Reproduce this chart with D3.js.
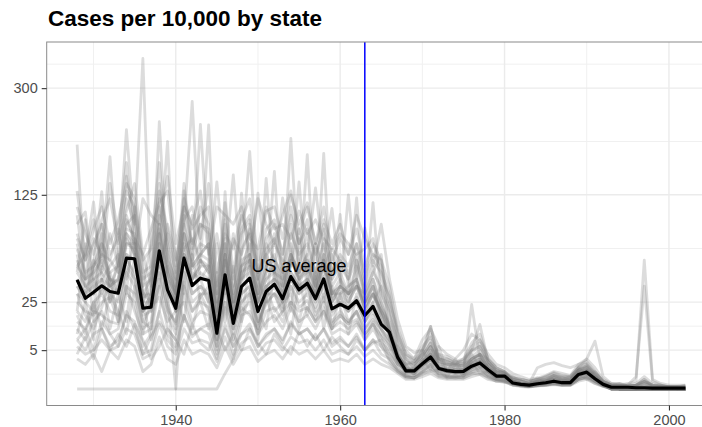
<!DOCTYPE html>
<html>
<head>
<meta charset="utf-8">
<script src="https://cdn.jsdelivr.net/npm/d3@7"></script>
<style>
  body { margin: 0; background: #fff; }
  text { font-family: "Liberation Sans", Arial, sans-serif; }
</style>
</head>
<body>
<div id="chart"></div>
<script>
// years 1928..2002
var years = d3.range(1928, 2003)

// US average, cases per 10,000
var usRate = [
  39.5, 27.3, 31.0, 35.3, 31.5, 30.4, 56.7, 56.2, 21.6, 22.2,
  63.3, 32.6, 21.6, 56.7, 35.5, 40.7, 39.0, 10.3, 43.2, 14.3,
  34.8, 40.7, 19.9, 31.5, 36.4, 27.0, 41.9, 32.6, 37.1, 27.0,
  40.2, 21.3, 23.8, 21.6, 25.8, 17.9, 22.6, 13.8, 10.7, 3.3,
  1.08, 1.08, 2.1, 3.4, 1.4, 1.12, 1.0, 1.02, 1.72, 2.24,
  1.22, 0.55, 0.55, 0.12, 0.07, 0.05, 0.09, 0.13, 0.2, 0.13,
  0.13, 0.7, 0.94, 0.35, 0.07, 0.01, 0.01, 0.01, 0.005, 0.005,
  0.003, 0.003, 0.003, 0.003, 0.003]

// individual states (estimated)
var st01 = [70,40,55,45,80,50,120,90,362,35, 110,70,25,130,60,90,80,25,70,30, 60,187,40,70,55,45,90,50,80,40, 75,35,45,30,50,28,40,25,12,4, 1.2,0.8,2.5,4,1.5,1.2,0.8,1,2.5,3, 1.5,0.6,0.4,0.1,0.05,0.02,0.1,0.2,0.3,0.1, 0.1,0.9,1.2,0.3,0.05,0,0,0,0,0, 0,0,0,0,0]
var st02 = [198,35,50,70,40,30,75,60,20,30, 80,45,20,60,40,55,45,12,129,18, 45,50,25,40,50,30,55,40,45,30, 184,25,35,30,40,20,30,18,9,3, 1,1.5,2,4,1,1,1.2,0.8,1.5,2.5, 1,0.5,0.7,0.2,0.1,0.05,0.1,0.1,0.2,0.2, 0.2,1,0.8,0.4,0.1,0.02,0,0,0,0, 0,0,0,0,0]
var st03 = [90,104,40,60,179,45,100,70,30,40, 120,50,30,90,274,60,70,20,50,25, 50,70,30,60,45,40,208,45,60,35, 60,30,40,25,35,22,35,15,10,3, 0.8,1,1.5,3,1.2,1,0.8,1,1.5,2, 1,0.4,0.5,0.1,0.05,0.05,0.05,0.1,0.2,0.1, 0.1,0.5,1,0.3,0.05,0,0,0,0,0, 0,0,0,0,0]
var st04 = [50,60,116,40,50,60,223,80,25,35, 90,40,25,100,50,232,60,15,70,20, 55,60,25,50,60,35,60,40,182,30, 55,30,30,35,40,20,30,20,12,4, 1.2,1.2,2,5,1.5,1.3,1,1.2,2,3, 1.2,0.6,0.5,0.15,0.08,0.05,0.1,0.15,0.25,0.15, 0.15,0.8,1.1,0.5,0.1,0.02,0,0,0,0, 0,0,0,0,0]
var st05 = [40,30,50,129,35,40,90,100,30,25, 237,45,30,80,50,60,70,15,60,25, 40,60,30,45,157,30,60,40,50,35, 60,30,35,125,40,25,35,18,11,3.5, 1,1,2,3,1.3,1.2,1,1.1,1.8,2.5, 1.2,0.5,0.6,0.1,0.1,0.05,0.1,0.1,0.2,0.1, 0.1,0.7,0.9,0.3,0.1,0.01,0,0,0,0, 0,0,0,0,0]
var st06 = [45,35,30,50,40,35,80,60,25,45, 60,203,20,70,40,50,231,18,55,20, 50,55,30,147,40,35,70,35,55,30, 55,25,35,30,121,25,40,20,10,3, 1,1.2,2.2,4,1.5,1,1,1,2,2.5, 1.3,0.6,0.5,0.15,0.1,0.05,0.1,0.15,0.2,0.1, 0.1,0.8,1,0.4,0.1,0.01,0,0,0,0, 0,0,0,0,0]
var st07 = [35,25,40,30,45,30,70,65,20,30, 70,35,25,60,45,40,50,142,50,152, 40,50,25,40,45,30,50,142,40,30, 50,25,30,25,35,30,115,25,12,4, 1.5,1.2,2.5,5,2,1.5,1.2,1,2.5,4, 1.5,0.7,0.6,0.2,0.1,0.08,0.15,0.2,0.3,0.2, 0.2,1.2,1.5,0.5,0.1,0.02,0,0,0,0, 0,0,0,0,0]
var st08 = [55,35,40,45,35,40,70,70,30,30, 80,40,30,70,40,50,50,20,60,25, 127,50,127,50,45,121,60,45,60,134, 55,108,40,30,35,25,30,20,10,3, 1,1,2,3.5,1.5,1,1,1,1.5,2.5, 1,0.5,0.5,0.1,0.05,0.05,0.1,0.1,0.2,0.1, 0.1,0.6,0.9,0.3,0.05,0.01,0,0,0,0, 0,0,0,0,0]
var st09 = [40,30,35,40,35,30,60,55,25,25, 60,35,25,55,40,45,40,15,45,20, 40,45,25,35,40,30,45,35,40,30, 45,40,101,35,40,86,50,90,40,16, 6,4.4,5,13,3,2.5,2,2,3,4, 3,1.5,1,0.3,0.2,0.1,1.5,2,2.3,1.8, 1.5,2,2.5,1,0.2,0.05,0.02,0.02,0.01,0.01, 0.01,0,0,0,0]
var st10 = [20,15,25,30,20,18,45,35,12,15, 50,20,15,45,25,30,30,8,35,10, 25,30,15,25,30,20,35,25,30,20, 30,15,20,15,20,12,18,10,7,2.5, 0.8,0.8,1.5,2.5,1.2,1,0.8,1,23.7,3, 1,0.4,0.4,0.1,0.05,0.03,0.05,0.1,0.15,0.1, 0.1,0.5,0.8,0.3,0.05,0,0,0,0,0, 0,0,0,0,0]
var st11 = [12,8,15,20,10,12,30,25,6,10, 35,12,8,30,15,20,18,5,22,6, 18,20,10,15,18,12,22,15,18,12, 20,10,12,10,14,8,12,7,5,2, 0.6,0.6,1.2,2,0.8,0.7,0.6,0.7,1.2,1.8, 0.8,0.3,0.3,0.08,0.04,0.02,0.05,0.08,0.12,0.08, 0.08,0.4,0.6,0.2,0.04,0,0,0,0,0, 0,0,0,0,0]
var st12 = [25,20,18,25,28,15,60,40,15,12, 70,25,12,60,30,35,25,6,40,12, 30,35,12,28,35,22,40,30,35,22, 38,18,25,20,25,15,22,12,8,2.8, 0.9,1,1.8,3,1.3,1,0.9,0.8,1.5,2, 1,0.5,0.5,0.12,0.06,0.04,0.08,0.1,0.2,0.1, 0.1,0.6,0.8,0.3,0.05,0,0,0,0,0, 0,0,0,0,0]
var st13 = [3,2,4,1,5,3,8,6,1,2, 9,3,2,8,4,5,4,1.5,6,2, 5,6,2.5,4,5,3,6,4,5,3, 5,2.5,3,2.5,4,2,3,2,1.5,0.8, 0.3,0.3,0.5,0.8,0.4,0.3,0.3,0.3,0.5,0.7, 0.3,0.2,0.15,0.05,0.02,0.01,0.03,0.05,0.08,0.05, 0.05,0.3,0.4,0.1,0.02,0,0,0,0,0, 0,0,0,0,0]
var st14 = [0,0,0,0,0,0,0,0,0,0, 0,0,0,0,0,0,0,0,0.8,2.9, 15,30,8,35,20,25,30,15,35,18, 25,12,30,15,20,8,15,6,4,1.5, 0.5,0.6,1,1.8,0.8,0.6,0.5,0.6,1,1.4, 0.6,0.3,0.3,0.08,0.04,0.02,0.04,0.06,0.1,0.06, 0.06,0.3,0.5,0.2,0.03,0,0,0,0,0, 0,0,0,0,0]
var st15 = [30,25,20,35,30,25,50,40,18,20, 55,30,0,50,30,35,30,10,40,12, 30,35,15,30,30,25,40,30,35,25, 35,20,25,20,25,15,20,12,8,2.5, 1,1,1.8,3,1.3,1,1,0.9,1.7,2.2, 1.1,0.5,0.5,0.12,0.07,0.05,0.08,0.12,0.2,0.12, 0.12,0.6,0.9,0.35,0.06,0.01,0,0,0,0, 0,0,0,0,0]
var st16 = [65,45,50,60,45,50,85,80,35,40, 90,50,35,80,50,60,55,20,60,25, 50,60,30,50,55,40,60,45,55,40, 55,30,35,30,38,25,35,22,15,5, 2,1.5,3,6,2.5,2,1.5,1.5,3,4, 2,1,0.8,0.2,0.1,0.1,0.15,0.2,0.4,0.3, 0.3,1,1.2,0.5,0.1,0.05,0.05,0.1,0.2,55, 0.3,0.1,0.05,0.05,0.05]
var st17 = [8,5,10,12,6,8,18,15,4,5, 20,8,5,18,10,12,10,3,14,4, 10,12,6,10,12,8,14,10,12,8, 12,6,8,6,9,5,8,4,3,1.2, 0.5,0.4,0.9,1.5,0.6,0.5,0.4,0.5,0.9,1.2, 0.5,0.2,0.2,0.05,0.03,0.02,0.03,0.05,0.08,0.05, 0.06,0.3,0.5,0.2,0.03,0.01,0.02,0.05,0.5,35, 0.2,0.05,0.02,0.02,0.03]
var st18 = [35,28,30,40,25,35,55,45,20,25, 60,30,20,55,35,40,40,12,40,15, 35,40,20,35,40,25,45,35,40,28, 42,22,28,22,28,18,25,15,10,4, 1.5,1.5,3,6,2,2,1.5,2,5,13.8, 2.5,1,1,0.2,0.1,0.1,0.2,0.3,0.5,0.3, 0.3,1.5,3,7.6,0.5,0.1,0.05,0.05,0.03,0.02, 0.01,0.01,0.01,0.01,0.05]
var st19 = [15,12,20,18,15,14,35,30,10,12, 40,18,10,35,20,25,22,6,25,8, 20,25,10,20,22,15,25,20,22,15, 22,12,15,12,15,10,14,9,6,3.5, 2,2.5,4,13,2.5,2,2,1.8,3,4, 1.5,0.8,0.6,0.2,0.1,0.05,0.1,0.15,0.2,0.15, 0.15,0.8,1.2,0.4,0.08,0.02,0,0,0,0, 0,0,0,0,0]
var st20 = [50,40,45,55,40,38,80,70,28,30, 85,45,28,80,48,55,50,14,55,18, 45,55,25,45,50,35,55,42,50,35, 50,28,32,28,35,22,30,20,14,4.5, 1.3,1.2,2.4,4.5,1.8,1.5,1.2,1.3,2.2,3, 1.3,0.7,0.7,0.15,0.08,0.06,0.12,0.18,0.3,0.2, 0.2,1,1.3,0.5,0.1,0.02,0,0,0,0, 0,0,0,0,0]
var st21 = [6,4,5,8,5,6,12,10,3,4, 14,6,4,12,7,8,7,2.5,9,3, 7,9,4,7,8,5,9,7,8,5, 8,4,5,4,6,3.5,5,3,2,1, 0.4,0.4,0.7,1.2,0.5,0.4,0.4,0.4,0.7,1, 0.4,0.2,0.2,0.05,0.03,0.02,0.03,0.04,0.06,0.04, 0.04,0.2,0.3,0.1,0.02,0,0,0,0,0, 0,0,0,0,0]
var st22 = [80,55,70,90,60,75,130,110,45,50, 140,70,40,110,70,90,85,30,90,35, 80,95,40,75,90,60,100,70,85,60, 85,45,55,45,60,35,50,30,20,6, 2,2,3.5,7,2.5,2,1.8,1.8,3.5,5, 2,1,0.9,0.2,0.1,0.08,0.15,0.25,0.4,0.25, 0.25,1.2,1.8,0.6,0.1,0.03,0,0,0,0, 0,0,0,0,0]
var st23 = [20,70,15,90,25,60,30,110,50,20, 35,90,60,30,100,40,25,70,30,80, 30,90,40,25,80,50,20,75,35,70, 25,60,40,20,55,30,45,60,8,6, 3,1.5,5,2,6,1,3,0.8,4,1.5, 2,0.8,0.3,0.5,0.2,0.1,0.4,0.2,0.6,0.3, 0.5,1.5,0.6,1,0.2,0.05,0.1,0.02,0.05,0.3, 0.02,0.05,0.01,0.02,0]
var st24 = [10,25,8,40,12,30,15,60,25,8, 20,50,30,15,60,25,12,45,15,50, 15,55,20,12,45,25,10,40,18,45, 12,35,22,10,30,15,25,35,12,3, 2,0.6,3,1.2,4,0.5,2,0.5,2.5,0.8, 1,0.4,0.2,0.3,0.1,0.05,0.2,0.1,0.3,0.15, 0.2,0.8,0.3,0.5,0.1,0.02,0.05,0.01,0.02,0.1, 0.01,0.02,0,0.01,0]
var st25 = [130,60,95,50,140,80,170,60,120,100, 90,150,70,110,90,130,60,110,100,90, 110,60,120,90,70,100,130,80,110,70, 95,70,90,60,100,75,60,50,25,12, 5,3,8,12,6,4,3,5,10,8, 4,2,1.5,0.8,0.5,0.3,0.4,0.6,1,0.8, 0.6,2,3,1.5,0.3,0.1,0.1,0.05,0.1,0.5, 0.1,0.05,0.02,0.02,0.02]
var st26 = [45,95,30,70,55,85,40,75,60,35, 50,80,45,65,75,55,45,80,40,75, 60,85,45,60,70,55,50,85,45,70, 50,65,55,40,70,45,60,55,18,8, 3,2,4,6,3,2.5,2,3,5,6, 2.5,1.2,0.8,0.4,0.3,0.2,0.3,0.4,0.6,0.5, 0.4,1.2,1.8,0.8,0.2,0.05,0.05,0.03,0.05,0.2, 0.05,0.03,0.01,0.01,0.01]
var st27 = [8,12,5,15,10,6,20,12,4,9, 15,10,6,18,9,12,14,4,12,6, 10,14,6,9,12,7,15,10,12,8, 12,7,9,6,10,5,8,6,3,1.2, 0.6,0.4,1,2,0.7,0.5,0.5,0.6,1.2,1.5, 0.6,0.3,0.2,0.1,0.05,0.03,0.1,0.1,0.2,0.1, 0.1,0.4,0.7,0.2,0.05,0,0,0,0,0.05, 0,0,0,0,0]
var st28 = [100,40,75,60,55,45,150,95,35,70, 170,55,40,140,65,110,90,30,95,40, 85,100,45,85,95,60,110,70,95,55, 90,45,60,50,70,40,55,45,30,10, 4,3,6,9,4,3.5,2.5,3,7,10, 3,1.5,1,0.5,0.3,0.2,0.3,0.5,0.9,0.6, 0.5,1.5,2,0.8,0.2,0.05,0.05,0.03,0.05,0.3, 0.05,0.02,0.02,0.01,0.01]
var st29 = [18,10,25,12,30,20,10,35,15,22, 28,15,20,25,12,30,20,8,25,14, 22,18,12,28,15,20,25,12,22,15, 20,12,18,14,16,10,14,9,4,2, 1.2,0.8,2,3,1.5,1,1.2,1.5,2.5,3.5, 1.5,0.6,0.4,0.2,0.1,0.08,0.15,0.2,0.4,0.25, 0.2,0.7,1,0.4,0.1,0.02,0.02,0.01,0.02,0.08, 0.02,0.01,0.01,0,0]
var st30 = [75,55,85,110,70,95,140,120,55,65, 130,85,50,120,85,100,110,35,115,45, 95,120,55,105,110,75,125,90,115,70, 110,55,75,60,85,50,70,55,35,11, 4,2.5,5,10,3.5,3,2.5,2.5,6,8, 3,1.5,1,0.4,0.3,0.2,0.3,0.5,0.8,0.5, 0.5,1.6,2.2,0.9,0.2,0.05,0.05,0.03,0.05,0.2, 0.05,0.02,0.02,0.01,0.01]
var st31 = [4,9,3,12,5,10,6,14,8,3, 6,12,8,4,14,7,5,12,5,10, 5,12,7,4,10,6,4,11,6,10, 5,9,6,4,8,5,7,8,2.5,1, 0.5,0.4,0.8,1,1.2,0.4,0.5,0.4,0.8,0.7, 0.5,0.3,0.15,0.1,0.05,0.02,0.05,0.05,0.1,0.05, 0.05,0.3,0.4,0.15,0.03,0,0,0,0,0.02, 0,0,0,0,0]
var st32 = [60,30,45,80,35,50,95,75,40,45, 100,60,35,90,55,70,65,25,75,30, 65,80,35,65,75,45,80,60,70,45, 70,40,50,40,55,30,45,35,22,7, 2.5,2,3.5,7,3,2.5,2,2.2,4.5,6, 2.2,1,0.7,0.3,0.2,0.1,0.2,0.3,0.6,0.4, 0.3,1.1,1.6,0.6,0.1,0.03,0.03,0.02,0.03,0.15, 0.03,0.02,0.01,0.01,0.01]
var st33 = [30,18,12,22,40,15,35,20,10,28, 45,22,14,38,20,28,35,10,30,16, 25,32,14,24,30,18,35,22,26,16, 28,14,18,14,20,12,16,12,6,2, 1.5,1,2,3.5,1.5,1.2,1,1.2,3,4, 1.5,0.7,0.5,0.2,0.1,0.08,0.12,0.2,0.3,0.2, 0.2,0.8,1.1,0.4,0.08,0.02,0.02,0.01,0.02,0.1, 0.02,0.01,0.01,0,0]
var st34 = [110,80,60,95,120,70,105,140,60,85, 115,130,55,95,110,75,140,45,80,65, 100,75,65,110,85,90,75,105,80,95, 75,65,80,70,60,65,75,40,28,9, 3.5,2.5,4.5,8,3,3,2.2,2.5,5,7, 2.5,1.2,0.8,0.3,0.2,0.1,0.2,0.3,0.6,0.4, 0.3,1.2,1.5,0.6,0.15,0.03,0.03,0.02,0.04,0.2, 0.04,0.02,0.01,0.01,0.01]
var states = [st01,st02,st03,st04,st05,st06,st07,st08,st09,st10,st11,st12,
              st13,st14,st15,st16,st17,st18,st19,st20,st21,st22,st23,st24,
              st25,st26,st27,st28,st29,st30,st31,st32,st33,st34]

var yBreaks = [5, 25, 125, 300]
var xBreaks = [1940, 1960, 1980, 2000]
var xMinor = [1930, 1950, 1970, 1990]

var width = 702, height = 427
var margin = {top: 42, left: 46.7, bottom: 405.5, right: 715.8}

var svg = d3.select('#chart')
  .append('svg')
  .attr('width', width)
  .attr('height', height)

// x with ggplot-like 5% expansion
var xpad = (2002 - 1928) * 0.05
var x = d3.scaleLinear()
  .domain([1928 - xpad, 2002 + xpad])
  .range([margin.left, margin.right])

// sqrt y, expanded 5% in transformed space
var M = Math.sqrt(d3.max(states, function(s) { return d3.max(s) }))
var y = d3.scaleSqrt()
  .domain([-Math.pow(0.05 * M, 2), Math.pow(1.05 * M, 2)])
  .range([margin.bottom, margin.top])

// minor breaks like ggplot (midpoints in sqrt space)
var sb = yBreaks.map(Math.sqrt)
var bd = sb[1] - sb[0]
sb = [sb[0] - bd].concat(sb, [sb[sb.length - 1] + bd])
var yMinor = []
for (var i = 0; i < sb.length - 1; i++) {
  var m = (sb[i] + sb[i + 1]) / 2
  yMinor.push(m < 0 ? -m * m : m * m)
}

var grid = svg.append('g')
grid.selectAll('.ymin').data(yMinor).enter().append('line')
  .attr('x1', margin.left).attr('x2', margin.right)
  .attr('y1', function(d) { return y(d) }).attr('y2', function(d) { return y(d) })
  .attr('stroke', '#f0f0f0').attr('stroke-width', 1)
grid.selectAll('.xmin').data(xMinor).enter().append('line')
  .attr('y1', margin.top).attr('y2', margin.bottom)
  .attr('x1', function(d) { return x(d) }).attr('x2', function(d) { return x(d) })
  .attr('stroke', '#f0f0f0').attr('stroke-width', 1)
grid.selectAll('.ymaj').data(yBreaks).enter().append('line')
  .attr('x1', margin.left).attr('x2', margin.right)
  .attr('y1', function(d) { return y(d) }).attr('y2', function(d) { return y(d) })
  .attr('stroke', '#ebebeb').attr('stroke-width', 1.4)
grid.selectAll('.xmaj').data(xBreaks).enter().append('line')
  .attr('y1', margin.top).attr('y2', margin.bottom)
  .attr('x1', function(d) { return x(d) }).attr('x2', function(d) { return x(d) })
  .attr('stroke', '#ebebeb').attr('stroke-width', 1.4)

var line = d3.line()
  .x(function(d, i) { return x(years[i]) })
  .y(function(d) { return y(d) })

svg.append('g')
  .attr('class', 'states')
  .selectAll('path')
  .data(states)
  .enter().append('path')
    .attr('d', line)
    .attr('fill', 'none')
    .attr('stroke', '#7f7f7f')
    .attr('stroke-opacity', 0.27)
    .attr('stroke-width', 2.8)
    .attr('stroke-linejoin', 'round')

svg.append('path')
  .attr('d', line(usRate))
  .attr('fill', 'none')
  .attr('stroke', '#000')
  .attr('stroke-width', 3.2)
  .attr('stroke-linejoin', 'round')

svg.append('text')
  .attr('x', x(1955))
  .attr('y', y(50))
  .attr('text-anchor', 'middle')
  .attr('dominant-baseline', 'central')
  .attr('font-size', 18)
  .attr('fill', '#000')
  .text('US average')

svg.append('line')
  .attr('x1', x(1963)).attr('x2', x(1963))
  .attr('y1', margin.top).attr('y2', margin.bottom)
  .attr('stroke', '#0000ff')
  .attr('stroke-width', 1.5)

// panel border
svg.append('rect')
  .attr('x', margin.left).attr('y', margin.top)
  .attr('width', margin.right - margin.left)
  .attr('height', margin.bottom - margin.top)
  .attr('fill', 'none')
  .attr('stroke', '#8a8a8a')
  .attr('stroke-width', 1)

var xAxis = svg.append('g')
  .attr('transform', 'translate(0,' + margin.bottom + ')')
  .call(d3.axisBottom(x).tickValues(xBreaks).tickFormat(d3.format('d')).tickSize(5).tickPadding(4))
var yAxis = svg.append('g')
  .attr('transform', 'translate(' + margin.left + ',0)')
  .call(d3.axisLeft(y).tickValues(yBreaks).tickFormat(d3.format('d')).tickSize(5).tickPadding(4))

;[xAxis, yAxis].forEach(function(a) {
  a.select('.domain').remove()
  a.selectAll('line').attr('stroke', '#333').attr('stroke-width', 1.1)
  a.selectAll('text')
    .attr('font-size', 14.5)
    .attr('fill', '#4d4d4d')
    .style('font-family', '"Liberation Sans", Arial, sans-serif')
})

svg.append('text')
  .attr('x', 48)
  .attr('y', 26)
  .attr('font-size', 22.5)
  .attr('font-weight', 'bold')
  .attr('fill', '#000')
  .text('Cases per 10,000 by state')
</script>
</body>
</html>
